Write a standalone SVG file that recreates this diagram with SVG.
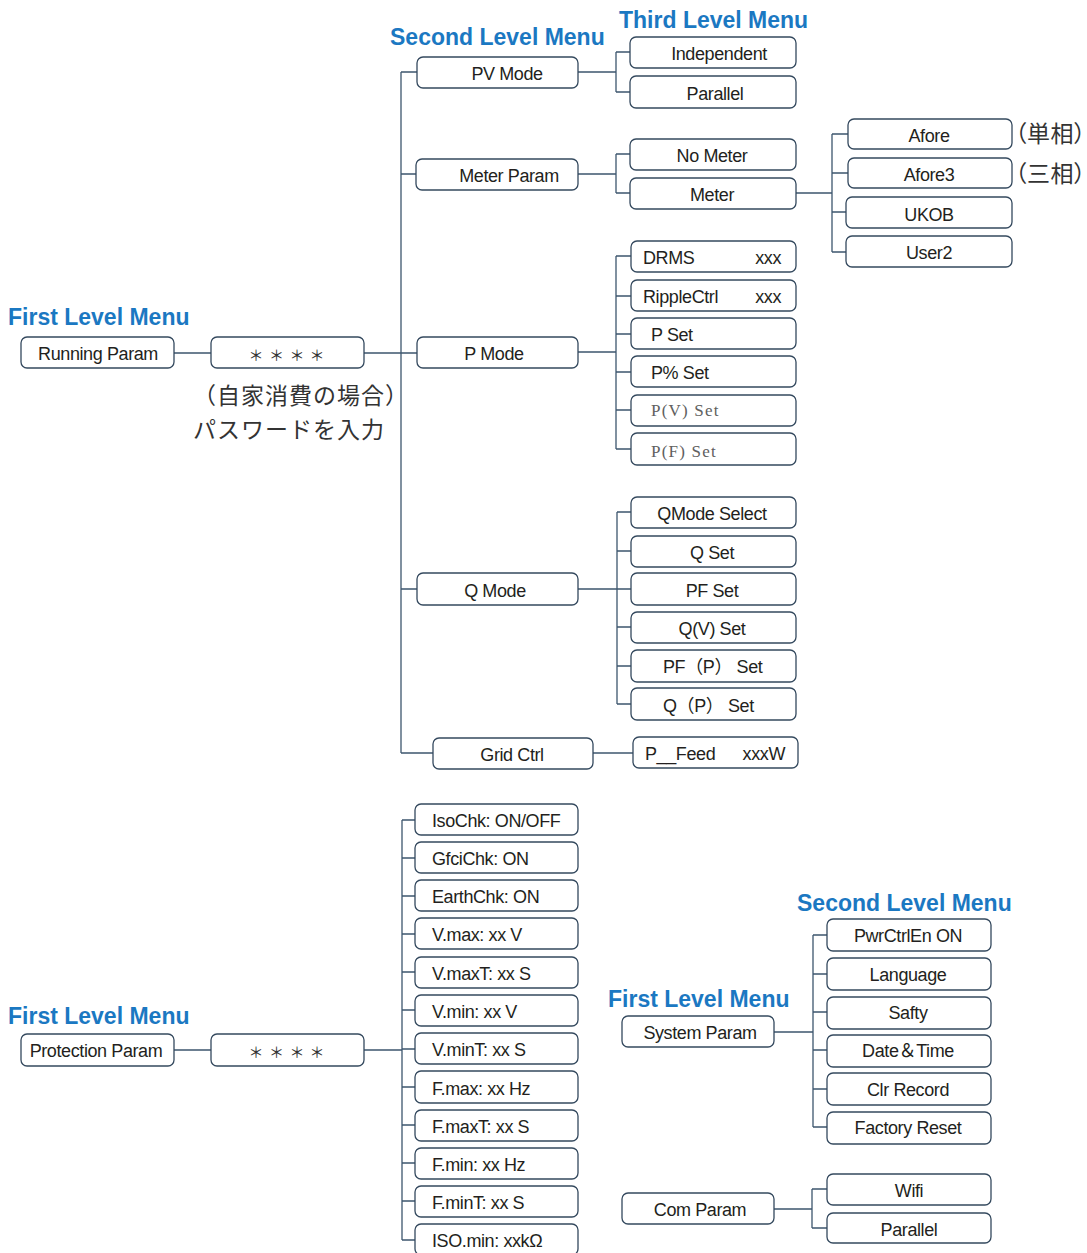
<svg xmlns="http://www.w3.org/2000/svg" width="1087" height="1253" viewBox="0 0 1087 1253">
<style>
.box{fill:#fff;stroke:#34495e;stroke-width:1.3}
.c{fill:none;stroke:#3d566e;stroke-width:1.3}
.t{font-family:'Liberation Sans','Noto Sans CJK JP',sans-serif;font-size:18px;fill:#231f20;text-anchor:middle;letter-spacing:-0.4px}
.l{text-anchor:start}
.r{text-anchor:end}
.s{font-family:'Liberation Serif',serif;font-size:17px;fill:#606060;text-anchor:start;letter-spacing:1.2px}
.h{font-family:'Liberation Sans',sans-serif;font-size:23px;font-weight:bold;fill:#1b78c2}
.j{font-family:'Noto Sans CJK JP',sans-serif;font-size:23px;fill:#333;letter-spacing:1px}
.p{font-family:'Noto Sans CJK JP',sans-serif;font-size:23px;fill:#333;letter-spacing:0.5px;font-feature-settings:"palt"}
.a{font-family:'Noto Sans CJK JP',sans-serif;font-size:15px;fill:#333;text-anchor:middle}
</style>
<rect width="1087" height="1253" fill="#fff"/>
<g id="headings">
<text class="h" x="390" y="45">Second Level Menu</text>
<text class="h" x="619" y="28">Third Level Menu</text>
<text class="h" x="8" y="325">First Level Menu</text>
<text class="h" x="8" y="1024">First Level Menu</text>
<text class="h" x="608" y="1007">First Level Menu</text>
<text class="h" x="797" y="911">Second Level Menu</text>
</g>
<g id="notes">
<text class="j"><tspan x="193" y="404">（自家消費の場合）</tspan><tspan x="193" y="437.5">パスワードを入力</tspan></text>
<text class="p" x="1015" y="142">（単相）</text>
<text class="p" x="1015" y="182">（三相）</text>
</g>
<g id="connectors">
<path class="c" d="M401,72V753M401,72H417M401,174H416M364,353H417M401,589H417M401,753H433M174,353H211"/>
<path class="c" d="M578,72H616M616,52V92M616,52H630M616,92H630"/>
<path class="c" d="M578,174H616M616,154V193M616,154H630M616,193H630"/>
<path class="c" d="M796,193H832M832,134V252M832,134H848M832,173H848M832,212H846M832,252H846"/>
<path class="c" d="M578,352H616M616,256V449M616,256H631M616,296H631M616,334H631M616,372H631M616,410H631M616,449H631"/>
<path class="c" d="M578,589H617M617,512V704M617,512H631M617,551H631M617,589H631M617,627H631M617,666H631M617,704H631"/>
<path class="c" d="M593,753H633"/>
<path class="c" d="M174,1050H211M364,1050H402M402,820V1240M402,820H415M402,858H415M402,896H415M402,934H415M402,972H415M402,1010H415M402,1049H415M402,1087H415M402,1125H415M402,1163H415M402,1201H415M402,1240H415"/>
<path class="c" d="M774,1032H813M813,935V1127M813,935H827M813,974H827M813,1012H827M813,1050H827M813,1089H827M813,1127H827"/>
<path class="c" d="M774,1209H812M812,1189V1228M812,1189H827M812,1228H827"/>
</g>
<g id="running-param"><rect class="box" x="21" y="337" width="153" height="31" rx="6"/><text class="t" x="98" y="360">Running Param</text></g>
<g id="password-1"><rect class="box" x="211" y="337" width="153" height="31" rx="6"/><text class="a" x="256 276.5 297 317" y="361">＊＊＊＊</text></g>
<g id="pv-mode"><rect class="box" x="417" y="57" width="161" height="31" rx="6"/><text class="t" x="507" y="80">PV Mode</text></g>
<g id="independent"><rect class="box" x="630" y="37" width="166" height="31" rx="6"/><text class="t" x="719" y="60">Independent</text></g>
<g id="parallel-1"><rect class="box" x="630" y="76" width="166" height="32" rx="6"/><text class="t" x="715" y="100">Parallel</text></g>
<g id="meter-param"><rect class="box" x="416" y="159" width="162" height="31" rx="6"/><text class="t" x="509" y="182">Meter Param</text></g>
<g id="no-meter"><rect class="box" x="630" y="139" width="166" height="31" rx="6"/><text class="t" x="712" y="162">No Meter</text></g>
<g id="meter"><rect class="box" x="630" y="178" width="166" height="31" rx="6"/><text class="t" x="712" y="201">Meter</text></g>
<g id="afore"><rect class="box" x="848" y="119" width="164" height="30" rx="6"/><text class="t" x="929" y="142">Afore</text></g>
<g id="afore3"><rect class="box" x="848" y="158" width="164" height="30" rx="6"/><text class="t" x="929" y="181">Afore3</text></g>
<g id="ukob"><rect class="box" x="846" y="197" width="166" height="31" rx="6"/><text class="t" x="929" y="221">UKOB</text></g>
<g id="user2"><rect class="box" x="846" y="236" width="166" height="31" rx="6"/><text class="t" x="929" y="259">User2</text></g>
<g id="p-mode"><rect class="box" x="417" y="337" width="161" height="31" rx="6"/><text class="t" x="494" y="360">P Mode</text></g>
<g id="drms"><rect class="box" x="631" y="241" width="165" height="31" rx="6"/><text class="t l" x="643" y="264">DRMS</text><text class="t r" x="781" y="264">xxx</text></g>
<g id="ripplectrl"><rect class="box" x="631" y="280" width="165" height="31" rx="6"/><text class="t l" x="643" y="303">RippleCtrl</text><text class="t r" x="781" y="303">xxx</text></g>
<g id="p-set"><rect class="box" x="631" y="318" width="165" height="31" rx="6"/><text class="t l" x="651" y="341">P Set</text></g>
<g id="ppct-set"><rect class="box" x="631" y="356" width="165" height="31" rx="6"/><text class="t l" x="651" y="379">P% Set</text></g>
<g id="pv-set"><rect class="box" x="631" y="395" width="165" height="31" rx="6"/><text class="s" x="651" y="416">P(V) Set</text></g>
<g id="pf-set"><rect class="box" x="631" y="433" width="165" height="32" rx="6"/><text class="s" x="651" y="457">P(F) Set</text></g>
<g id="q-mode"><rect class="box" x="417" y="573" width="161" height="32" rx="6"/><text class="t" x="495" y="597">Q Mode</text></g>
<g id="qmode-select"><rect class="box" x="631" y="497" width="165" height="31" rx="6"/><text class="t" x="712" y="520">QMode Select</text></g>
<g id="q-set"><rect class="box" x="631" y="536" width="165" height="31" rx="6"/><text class="t" x="712" y="559">Q Set</text></g>
<g id="pf-set-q"><rect class="box" x="631" y="573" width="165" height="32" rx="6"/><text class="t" x="712" y="597">PF Set</text></g>
<g id="qv-set"><rect class="box" x="631" y="612" width="165" height="31" rx="6"/><text class="t" x="712" y="635">Q(V) Set</text></g>
<g id="pfp-set"><rect class="box" x="631" y="650" width="165" height="32" rx="6"/><text class="t l" x="663" y="673">PF（P） Set</text></g>
<g id="qp-set"><rect class="box" x="631" y="688" width="165" height="32" rx="6"/><text class="t l" x="663" y="712">Q（P） Set</text></g>
<g id="grid-ctrl"><rect class="box" x="433" y="738" width="160" height="31" rx="6"/><text class="t" x="512" y="761">Grid Ctrl</text></g>
<g id="p-feed"><rect class="box" x="633" y="737" width="165" height="31" rx="6"/><text class="t l" x="645" y="760">P__Feed</text><text class="t r" x="785" y="760">xxxW</text></g>
<g id="protection-param"><rect class="box" x="21" y="1034" width="153" height="32" rx="6"/><text class="t" x="96" y="1057">Protection Param</text></g>
<g id="password-2"><rect class="box" x="211" y="1034" width="153" height="32" rx="6"/><text class="a" x="256 276.5 297 317" y="1058">＊＊＊＊</text></g>
<g id="isochk"><rect class="box" x="415" y="804" width="163" height="31" rx="6"/><text class="t l" x="432" y="827">IsoChk: ON/OFF</text></g>
<g id="gfcichk"><rect class="box" x="415" y="842" width="163" height="31" rx="6"/><text class="t l" x="432" y="865">GfciChk: ON</text></g>
<g id="earthchk"><rect class="box" x="415" y="880" width="163" height="31" rx="6"/><text class="t l" x="432" y="903">EarthChk: ON</text></g>
<g id="vmax"><rect class="box" x="415" y="918" width="163" height="31" rx="6"/><text class="t l" x="432" y="941">V.max: xx V</text></g>
<g id="vmaxt"><rect class="box" x="415" y="957" width="163" height="31" rx="6"/><text class="t l" x="432" y="980">V.maxT: xx S</text></g>
<g id="vmin"><rect class="box" x="415" y="995" width="163" height="31" rx="6"/><text class="t l" x="432" y="1018">V.min: xx V</text></g>
<g id="vmint"><rect class="box" x="415" y="1033" width="163" height="31" rx="6"/><text class="t l" x="432" y="1056">V.minT: xx S</text></g>
<g id="fmax"><rect class="box" x="415" y="1071" width="163" height="32" rx="6"/><text class="t l" x="432" y="1095">F.max: xx Hz</text></g>
<g id="fmaxt"><rect class="box" x="415" y="1110" width="163" height="31" rx="6"/><text class="t l" x="432" y="1133">F.maxT: xx S</text></g>
<g id="fmin"><rect class="box" x="415" y="1148" width="163" height="31" rx="6"/><text class="t l" x="432" y="1171">F.min: xx Hz</text></g>
<g id="fmint"><rect class="box" x="415" y="1186" width="163" height="31" rx="6"/><text class="t l" x="432" y="1209">F.minT: xx S</text></g>
<g id="isomin"><rect class="box" x="415" y="1224" width="163" height="31" rx="6"/><text class="t l" x="432" y="1247">ISO.min: xxkΩ</text></g>
<g id="system-param"><rect class="box" x="622" y="1016" width="152" height="31" rx="6"/><text class="t" x="700" y="1039">System Param</text></g>
<g id="pwrctrlen"><rect class="box" x="827" y="919" width="164" height="32" rx="6"/><text class="t" x="908" y="942">PwrCtrlEn ON</text></g>
<g id="language"><rect class="box" x="827" y="958" width="164" height="32" rx="6"/><text class="t" x="908" y="981">Language</text></g>
<g id="safty"><rect class="box" x="827" y="997" width="164" height="32" rx="6"/><text class="t" x="908" y="1019">Safty</text></g>
<g id="date-time"><rect class="box" x="827" y="1035" width="164" height="32" rx="6"/><text class="t" x="908" y="1057">Date＆Time</text></g>
<g id="clr-record"><rect class="box" x="827" y="1073" width="164" height="32" rx="6"/><text class="t" x="908" y="1096">Clr Record</text></g>
<g id="factory-reset"><rect class="box" x="827" y="1112" width="164" height="32" rx="6"/><text class="t" x="908" y="1134">Factory Reset</text></g>
<g id="com-param"><rect class="box" x="622" y="1193" width="152" height="31" rx="6"/><text class="t" x="700" y="1216">Com Param</text></g>
<g id="wifi"><rect class="box" x="827" y="1174" width="164" height="31" rx="6"/><text class="t" x="909" y="1197">Wifi</text></g>
<g id="parallel-2"><rect class="box" x="827" y="1213" width="164" height="30" rx="6"/><text class="t" x="909" y="1236">Parallel</text></g>
</svg>
